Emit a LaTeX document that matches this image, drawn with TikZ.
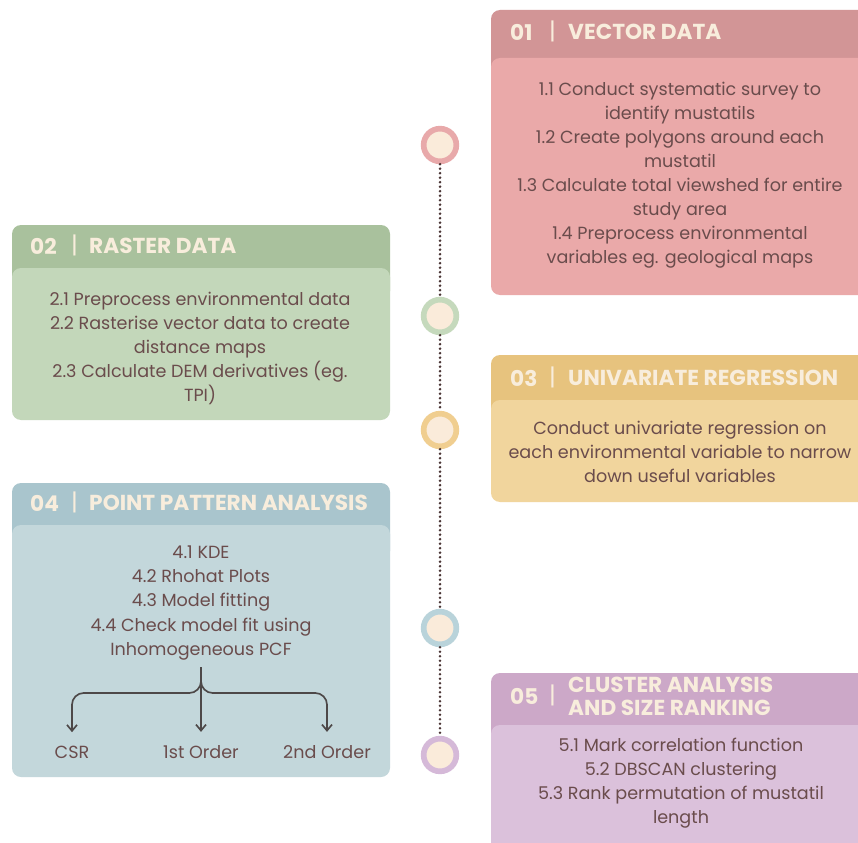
\documentclass[tikz,border=0pt]{standalone}
\usepackage{fontspec}
\setmainfont{Poppins}
\usepackage{xcolor}
\definecolor{hdrPink}{HTML}{D29596}
\definecolor{bodyPink}{HTML}{EAA9A9}
\definecolor{hdrGreen}{HTML}{A9C19D}
\definecolor{bodyGreen}{HTML}{C3D7BA}
\definecolor{hdrYellow}{HTML}{E7C37E}
\definecolor{bodyYellow}{HTML}{F1D59D}
\definecolor{hdrBlue}{HTML}{A9C5CD}
\definecolor{bodyBlue}{HTML}{C3D7DB}
\definecolor{hdrPurple}{HTML}{CCA8C8}
\definecolor{bodyPurple}{HTML}{DBC1DB}
\definecolor{ringPink}{HTML}{E8A9AA}
\definecolor{ringGreen}{HTML}{C5D9BC}
\definecolor{ringYellow}{HTML}{F0CE90}
\definecolor{ringBlue}{HTML}{B9D3DA}
\definecolor{ringPurple}{HTML}{D5B9D8}
\definecolor{cream}{HTML}{FAEBDA}
\definecolor{hdrText}{HTML}{F8EDDC}
\definecolor{bodyText}{HTML}{6A4C4C}
\definecolor{dotBrown}{HTML}{4A3535}
\definecolor{forkGray}{HTML}{4D4848}
\usepackage{tikz}
\usetikzlibrary{arrows.meta, positioning}

\begin{document}
\begin{tikzpicture}[
    x=0.03cm, y=-0.03cm,
    boxcorner/.style={rounded corners=0.27cm},
    hdrtext/.style={
        anchor=west,
        text=hdrText,
        inner sep=0pt,
        font=\fontsize{18.5}{19.5}\selectfont\bfseries
    },
    hdrbar/.style={
        anchor=west,
        text=hdrText,
        inner sep=0pt,
        font=\fontsize{20}{21}\selectfont\mdseries
    },
    bodytext/.style={
        align=center,
        text=bodyText,
        inner sep=0pt,
        font=\fontsize{15}{20.5}\selectfont
    },
    stepdot/.style={
        circle,
        draw=#1,
        line width=0.17cm,
        fill=cream,
        minimum size=0.98cm,
        inner sep=0pt
    },
    timeline/.style={
        dotBrown,
        line width=0.085cm,
        line cap=round,
        dash pattern=on 0pt off 0.135cm
    },
    forkline/.style={
        forkGray,
        line width=0.05cm,
        rounded corners=0.35cm,
        -{Straight Barb[length=0.18cm, width=0.3cm, line width=0.05cm]},
        shorten >=0.4cm
    }
]
\clip (0,0) rectangle (858,843);
\fill[white] (0,0) rectangle (858,843);

% Boxes
\fill[hdrPink, boxcorner] (491,10) rectangle (890,120);
\fill[bodyPink, boxcorner] (491,58) rectangle (890,295);
\fill[hdrGreen, boxcorner] (12,225) rectangle (390,300);
\fill[bodyGreen, boxcorner] (12,268) rectangle (390,420);
\fill[hdrYellow, boxcorner] (491,355) rectangle (890,450);
\fill[bodyYellow, boxcorner] (491,400) rectangle (890,502);
\fill[hdrBlue, boxcorner] (12,483) rectangle (390,560);
\fill[bodyBlue, boxcorner] (12,525) rectangle (390,777);
\fill[hdrPurple, boxcorner] (491,673) rectangle (890,760);
\fill[bodyPurple, boxcorner] (491,725) rectangle (890,860);

% Headers
\node[hdrtext] (n1) at (510,32) {01};
\node[hdrbar] (b1) at (549,31) {|};
\node[hdrtext] (h1) at (568,32) {VECTOR DATA};
\node[hdrtext] (n2) at (30,246) {02};
\node[hdrbar] (b2) at (71,245) {|};
\node[hdrtext] (h2) at (89,246) {RASTER DATA};
\node[hdrtext] (n3) at (510,378) {03};
\node[hdrbar] (b3) at (549,377) {|};
\node[hdrtext] (h3) at (568,378) {UNIVARIATE REGRESSION};
\node[hdrtext] (n4) at (30,503) {04};
\node[hdrbar] (b4) at (71,502) {|};
\node[hdrtext] (h4) at (89,503) {POINT PATTERN ANALYSIS};
\node[hdrtext] (n5) at (510,696) {05};
\node[hdrbar] (b5) at (549,695) {|};
\node[hdrtext, align=left] (h5) at (568,696) {CLUSTER ANALYSIS\\AND SIZE RANKING};

% Body texts
\node[bodytext] (t1) at (680,175) {1.1 Conduct systematic survey to\\identify mustatils\\1.2 Create polygons around each\\mustatil\\1.3 Calculate total viewshed for entire\\study area\\1.4 Preprocess environmental\\variables eg. geological maps};
\node[bodytext] (t2) at (200,348) {2.1 Preprocess environmental data\\2.2 Rasterise vector data to create\\distance maps\\2.3 Calculate DEM derivatives (eg.\\TPI)};
\node[bodytext] (t3) at (680,452) {Conduct univariate regression on\\each environmental variable to narrow\\down useful variables};
\node[bodytext] (t4) at (201,603) {4.1 KDE\\4.2 Rhohat Plots\\4.3 Model fitting\\4.4 Check model fit using\\Inhomogeneous PCF};
\node[bodytext] (t5) at (681,783) {5.1 Mark correlation function\\5.2 DBSCAN clustering\\5.3 Rank permutation of mustatil\\length};

% Point pattern outcomes
\coordinate (fork) at (201,667);
\node[bodytext] (csr) at (72,752) {CSR};
\node[bodytext] (ord1) at (201,752) {1st Order};
\node[bodytext] (ord2) at (327,752) {2nd Order};
\draw[forkline] (fork) -- (201,693) -- (72,693) -- (csr.north);
\draw[forkline] (fork) -- (ord1.north);
\draw[forkline] (fork) -- (201,693) -- (327,693) -- (ord2.north);

% Timeline
\node[stepdot=ringPink] (c1) at (440,145) {};
\node[stepdot=ringGreen] (c2) at (440,316) {};
\node[stepdot=ringYellow] (c3) at (440,430) {};
\node[stepdot=ringBlue] (c4) at (440,628) {};
\node[stepdot=ringPurple] (c5) at (440,755) {};
\draw[timeline] (c1) -- (c2);
\draw[timeline] (c2) -- (c3);
\draw[timeline] (c3) -- (c4);
\draw[timeline] (c4) -- (c5);

\end{tikzpicture}
\end{document}
